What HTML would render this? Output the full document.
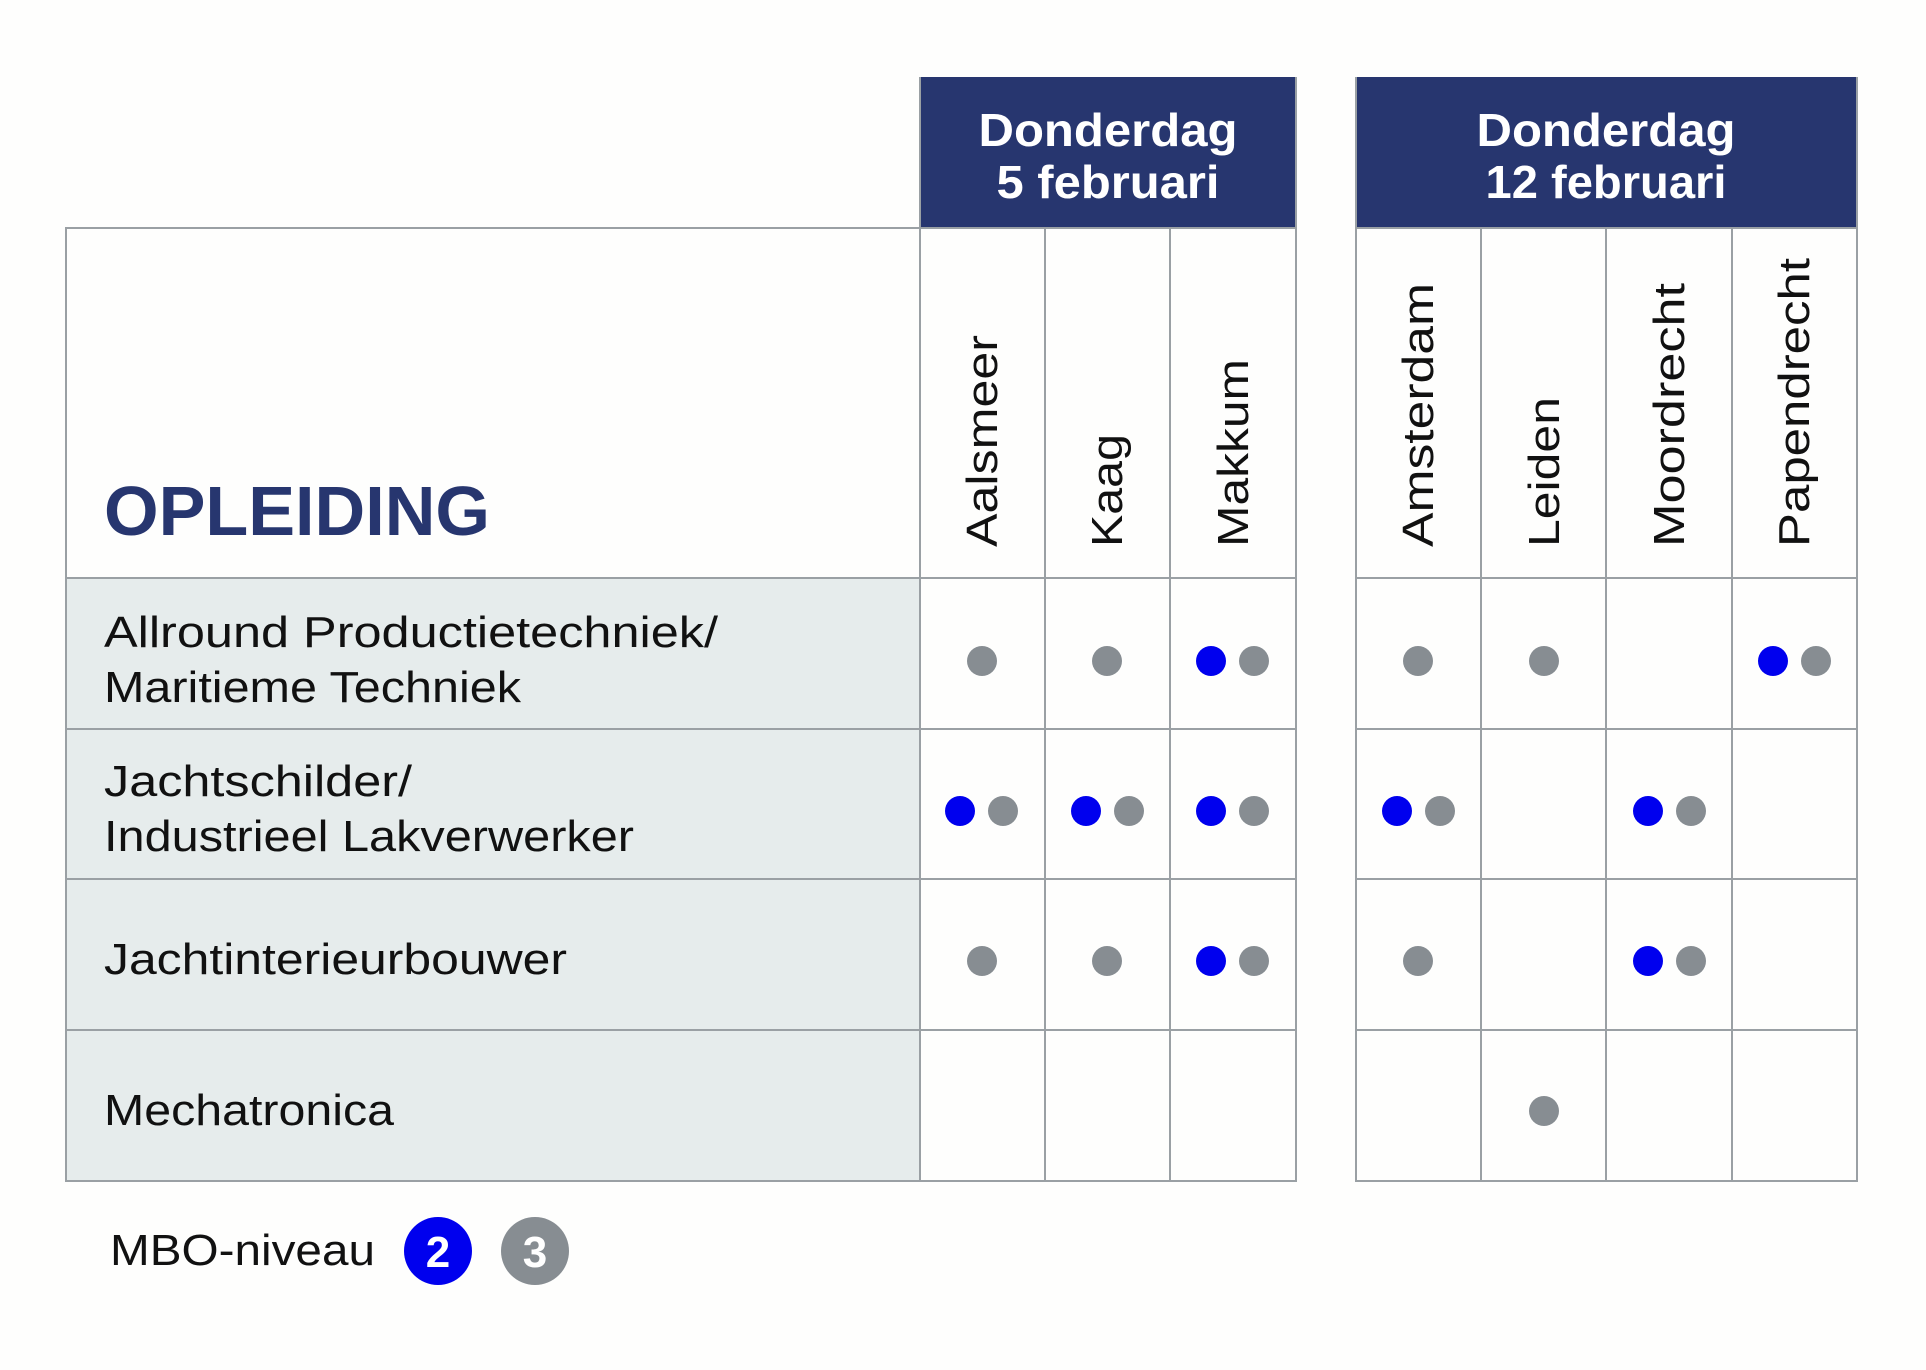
<!DOCTYPE html>
<html><head><meta charset="utf-8"><style>
html,body{margin:0;padding:0;background:#fefefd;}
svg{display:block;}
text{font-family:"Liberation Sans",sans-serif;}
</style></head><body>
<svg width="1926" height="1370" viewBox="0 0 1926 1370" xmlns="http://www.w3.org/2000/svg">
<rect width="1926" height="1370" fill="#fefefd"/>
<rect x="66" y="578" width="854" height="603" fill="#e6ecec"/>
<rect x="920" y="77" width="376" height="151" fill="#27366f"/>
<rect x="1356" y="77" width="501" height="151" fill="#27366f"/>
<g fill="#fff" font-weight="bold" font-size="46" text-anchor="middle" lengthAdjust="spacingAndGlyphs">
<text x="1108" y="146" textLength="259" lengthAdjust="spacingAndGlyphs">Donderdag</text>
<text x="1108" y="198" textLength="223" lengthAdjust="spacingAndGlyphs">5 februari</text>
<text x="1606" y="146" textLength="259" lengthAdjust="spacingAndGlyphs">Donderdag</text>
<text x="1606" y="198" textLength="241" lengthAdjust="spacingAndGlyphs">12 februari</text>
</g>
<g stroke="#9aa0a4" stroke-width="2" fill="none">
<rect x="66" y="228" width="1230" height="953"/>
<rect x="1356" y="228" width="501" height="953"/>
<path d="M920 77V1181M1045 228V1181M1170 228V1181M1296 77V228"/>
<path d="M1356 77V228M1857 77V228M1481 228V1181M1606 228V1181M1732 228V1181"/>
<path d="M66 578H1296M66 729H1296M66 879H1296M66 1030H1296"/>
<path d="M1356 578H1857M1356 729H1857M1356 879H1857M1356 1030H1857"/>
</g>
<text x="104" y="535" font-size="70" font-weight="bold" fill="#27366f" textLength="386" lengthAdjust="spacingAndGlyphs">OPLEIDING</text>
<g font-size="44" fill="#111">
<text transform="translate(997,547) rotate(-90)" textLength="212" lengthAdjust="spacingAndGlyphs">Aalsmeer</text>
<text transform="translate(1122,547) rotate(-90)" textLength="113" lengthAdjust="spacingAndGlyphs">Kaag</text>
<text transform="translate(1248,547) rotate(-90)" textLength="188" lengthAdjust="spacingAndGlyphs">Makkum</text>
<text transform="translate(1433,547) rotate(-90)" textLength="264" lengthAdjust="spacingAndGlyphs">Amsterdam</text>
<text transform="translate(1559,547) rotate(-90)" textLength="150" lengthAdjust="spacingAndGlyphs">Leiden</text>
<text transform="translate(1684,547) rotate(-90)" textLength="264" lengthAdjust="spacingAndGlyphs">Moordrecht</text>
<text transform="translate(1809,547) rotate(-90)" textLength="289" lengthAdjust="spacingAndGlyphs">Papendrecht</text>
</g>
<g font-size="44" fill="#111">
<text x="104" y="647" textLength="614" lengthAdjust="spacingAndGlyphs">Allround Productietechniek/</text>
<text x="104" y="702" textLength="417" lengthAdjust="spacingAndGlyphs">Maritieme Techniek</text>
<text x="104" y="796" textLength="308" lengthAdjust="spacingAndGlyphs">Jachtschilder/</text>
<text x="104" y="851" textLength="530" lengthAdjust="spacingAndGlyphs">Industrieel Lakverwerker</text>
<text x="104" y="974" textLength="463" lengthAdjust="spacingAndGlyphs">Jachtinterieurbouwer</text>
<text x="104" y="1125" textLength="290" lengthAdjust="spacingAndGlyphs">Mechatronica</text>
</g>
<g fill="#878d92">
<circle cx="982" cy="661" r="15"/><circle cx="1107" cy="661" r="15"/><circle cx="1254" cy="661" r="15"/>
<circle cx="1418" cy="661" r="15"/><circle cx="1544" cy="661" r="15"/><circle cx="1816" cy="661" r="15"/>
<circle cx="1003" cy="811" r="15"/><circle cx="1129" cy="811" r="15"/><circle cx="1254" cy="811" r="15"/>
<circle cx="1440" cy="811" r="15"/><circle cx="1691" cy="811" r="15"/>
<circle cx="982" cy="961" r="15"/><circle cx="1107" cy="961" r="15"/><circle cx="1254" cy="961" r="15"/>
<circle cx="1418" cy="961" r="15"/><circle cx="1691" cy="961" r="15"/>
<circle cx="1544" cy="1111" r="15"/>
</g>
<g fill="#0000ee">
<circle cx="1211" cy="661" r="15"/><circle cx="1773" cy="661" r="15"/>
<circle cx="960" cy="811" r="15"/><circle cx="1086" cy="811" r="15"/><circle cx="1211" cy="811" r="15"/>
<circle cx="1397" cy="811" r="15"/><circle cx="1648" cy="811" r="15"/>
<circle cx="1211" cy="961" r="15"/><circle cx="1648" cy="961" r="15"/>
</g>
<text x="110" y="1265" font-size="44" fill="#111" textLength="265" lengthAdjust="spacingAndGlyphs">MBO-niveau</text>
<circle cx="438" cy="1251" r="34" fill="#0000ee"/>
<circle cx="535" cy="1251" r="34" fill="#878d92"/>
<g fill="#fff" font-size="44" font-weight="bold" text-anchor="middle">
<text x="438" y="1267">2</text>
<text x="535" y="1267">3</text>
</g>
</svg>
</body></html>
